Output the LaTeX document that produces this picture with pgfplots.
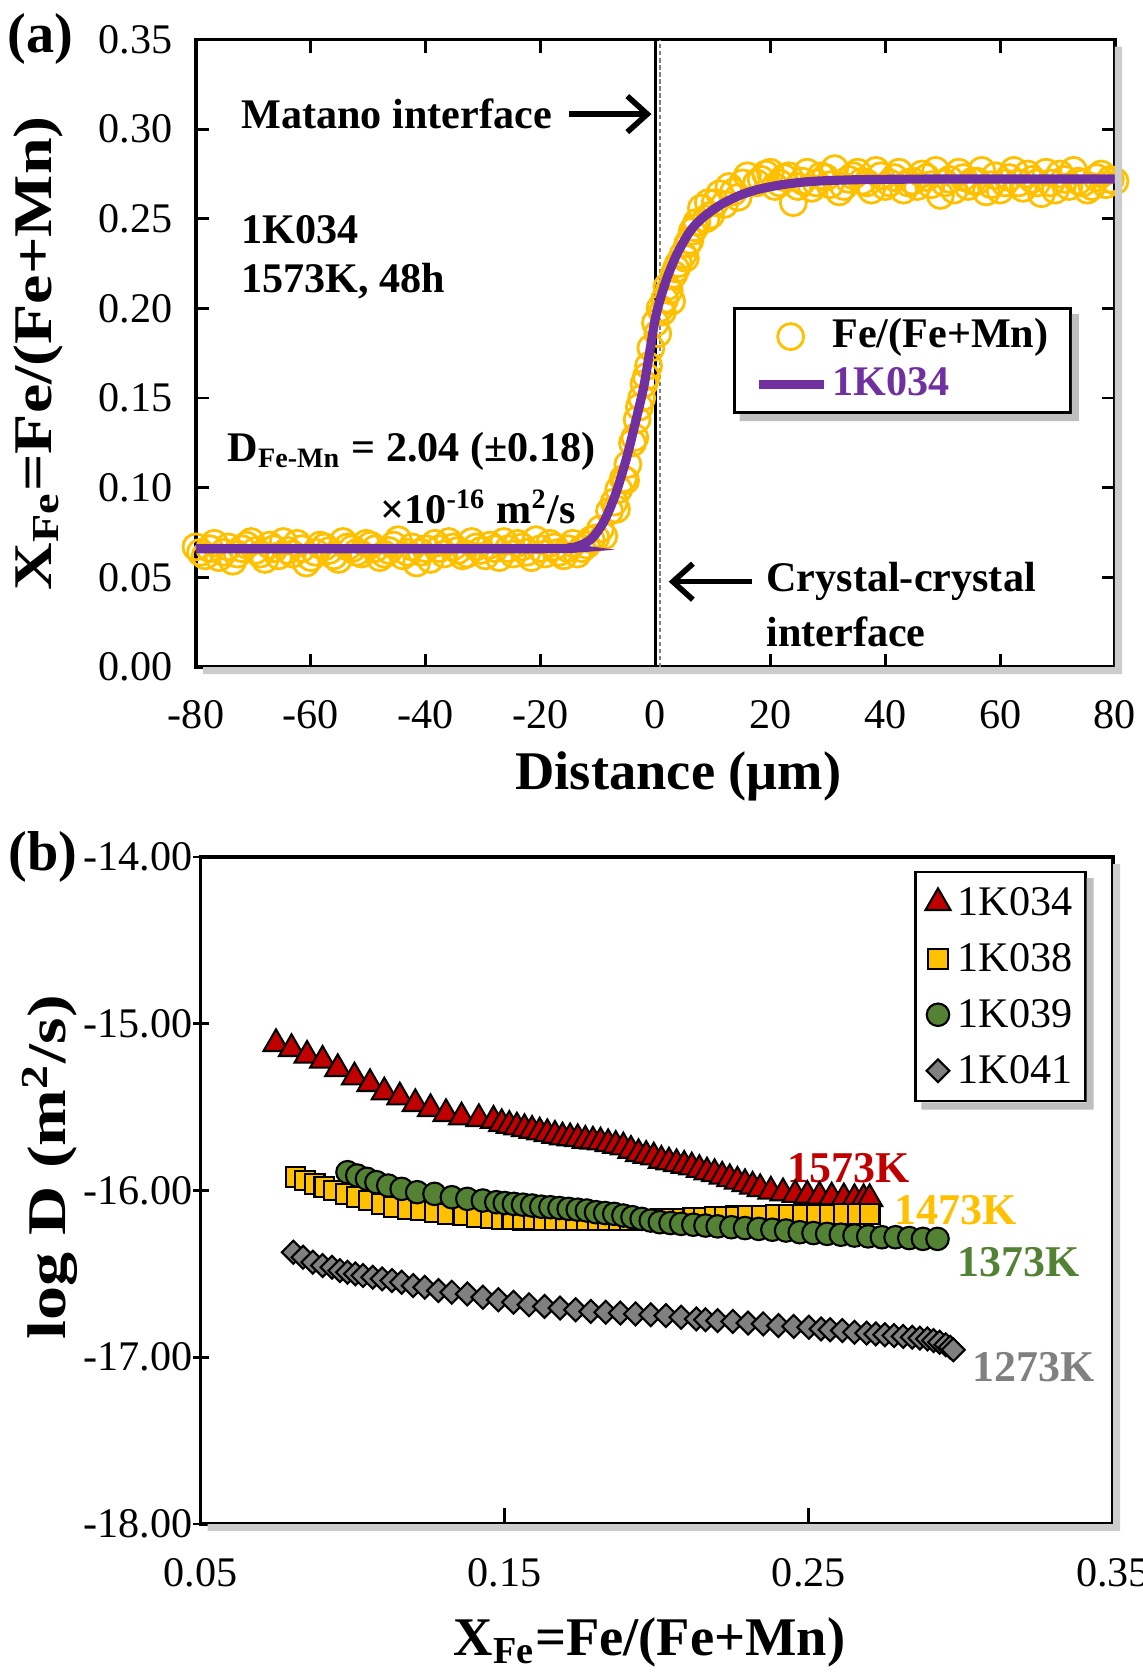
\documentclass[border=0pt]{standalone}
\usepackage{pgfplots}
\pgfplotsset{compat=1.18}
\usepackage{fontspec}
\setmainfont{Liberation Serif}
\usetikzlibrary{arrows.meta}
\definecolor{cOr}{HTML}{FFC000}
\definecolor{cPu}{HTML}{7030A0}
\definecolor{cRe}{HTML}{C00000}
\definecolor{cGr}{HTML}{548235}
\definecolor{cGy}{HTML}{808080}
\newcommand{\tickfont}{\fontsize{12}{14}\selectfont}
\newcommand{\xlabfont}{\fontsize{15.5}{18}\selectfont\bfseries}
\newcommand{\ylabfont}{\fontsize{15.5}{18}\selectfont\bfseries}
\newcommand{\annfont}{\fontsize{12}{14}\selectfont\bfseries}
\pgfplotsset{
  legcirc/.style={legend image code/.code={\coordinate (lA) at (0mm,0mm); \coordinate (lB) at (6.5mm,0mm); \draw[##1] plot coordinates {(3.2mm,0mm)};}},
  legline/.style={legend image code/.code={\draw[##1] plot coordinates {(0mm,0mm) (6.5mm,0mm)};}},
  legmark/.style={legend image code/.code={\draw[##1] plot coordinates {(0mm,0mm)};}},
}
\newcommand{\axisshadow}{%
  \fill[black!20] ([xshift=2pt]rel axis cs:0,0) -- ([xshift=2pt,yshift=-2pt]rel axis cs:0,0)
    -- ([xshift=2pt,yshift=-2pt]rel axis cs:1,0) -- ([xshift=2pt,yshift=-2pt]rel axis cs:1,1)
    -- ([yshift=-2pt]rel axis cs:1,1) -- (rel axis cs:1,0) -- cycle;}
\newcommand{\legshadow}[1]{%
  \fill[black!25] ([xshift=2pt]#1.south west) -- ([xshift=2pt,yshift=-2pt]#1.south west)
    -- ([xshift=2pt,yshift=-2pt]#1.south east) -- ([xshift=2pt,yshift=-2pt]#1.north east)
    -- ([yshift=-2pt]#1.north east) -- (#1.south east) -- cycle;}
\begin{document}
\begin{tikzpicture}
\useasboundingbox (0,0) rectangle (114.3mm,-167.3mm);
\node[font=\fontsize{16}{18}\selectfont\bfseries] at (4.05mm,-3.9mm) {(a)};
\node[font=\fontsize{16}{18}\selectfont\bfseries] at (4.3mm,-85.7mm) {(b)};
% ---------------- panel (a)
\begin{axis}[
  at={(19.6mm,-66.7mm)}, anchor=south west,
  scale only axis, width=91.9mm, height=62.75mm,
  xmin=-80, xmax=80, ymin=0, ymax=0.35,
  xtick={-80,-60,-40,-20,0,20,40,60,80},
  ytick={0,0.05,0.10,0.15,0.20,0.25,0.30,0.35},
  axis line style={line width=0.9pt},
  every tick/.style={black, line width=0.8pt},
  major tick length=1.3mm,
  tick align=inside,
  tick label style={font=\tickfont},
  /pgf/number format/assume math mode=true,
  yticklabel style={/pgf/number format/fixed, /pgf/number format/fixed zerofill, /pgf/number format/precision=2, xshift=-1.1mm},
  xticklabel style={yshift=-2.1mm},
  every axis x label/.style={at={(axis description cs:0.525,-0.174)}, anchor=center},
  every axis y label/.style={at={(axis description cs:-0.172,0.50)}, anchor=center, rotate=90},
  xlabel={\xlabfont Distance (μm)},
  ylabel={\scalebox{1.21}[1]{\ylabfont X\textsubscript{Fe}=Fe/(Fe+Mn)}},
  clip=false,
  clip marker paths=true,
  legend style={name=lega, at={(axis cs:72.5,0.2008)}, anchor=north east, draw=black, line width=0.9pt, fill=white,
    font=\annfont, inner xsep=2mm, inner ysep=0.6mm, row sep=0.4mm, column sep=0.2mm,
    nodes={text height=3.1mm, text depth=0.9mm, inner sep=0.2mm}},
  legend cell align=left,
]
\addplot[draw=black, line width=0.8pt, forget plot] coordinates {(0,0) (0,0.35)};
\addplot[draw=gray, line width=0.6pt, dash pattern=on 1.2pt off 0.8pt, forget plot] coordinates {(0.8,0) (0.8,0.35)};
\addplot[only marks, mark=o, mark size=3.7pt, mark options={draw=cOr, line width=0.8pt}, legcirc]
coordinates {
(-80.0,0.067)(-78.4,0.062)(-76.8,0.069)(-75.2,0.064)(-73.6,0.059)(-72.0,0.066)(-70.4,0.070)(-68.8,0.063)
(-67.2,0.068)(-65.6,0.062)(-64.0,0.065)(-62.4,0.069)(-60.8,0.058)(-59.2,0.064)(-57.6,0.067)(-56.0,0.062)
(-54.4,0.070)(-52.8,0.066)(-51.2,0.063)(-49.6,0.068)(-48.0,0.061)(-46.4,0.065)(-44.8,0.071)(-43.2,0.064)
(-41.6,0.058)(-40.0,0.066)(-38.4,0.069)(-36.8,0.063)(-35.2,0.067)(-33.6,0.062)(-32.0,0.070)(-30.4,0.065)
(-28.8,0.068)(-27.2,0.061)(-25.6,0.066)(-24.0,0.069)(-22.4,0.064)(-20.8,0.071)(-19.2,0.063)(-17.6,0.067)
(-16.0,0.062)(-14.4,0.069)(-12.8,0.066)(-11.2,0.071)(-10.4,0.072)(-9.6,0.077)(-8.0,0.087)(-7.2,0.092)
(-79.2,0.064)(-77.6,0.066)(-76.0,0.061)(-74.4,0.067)(-72.8,0.063)(-71.2,0.068)(-69.6,0.065)(-68.0,0.060)
(-66.4,0.066)(-64.8,0.070)(-63.2,0.063)(-61.6,0.066)(-60.0,0.061)(-58.4,0.068)(-56.8,0.065)(-55.2,0.060)
(-53.6,0.067)(-52.0,0.064)(-50.4,0.069)(-48.8,0.066)(-47.2,0.063)(-45.6,0.068)(-44.0,0.062)(-42.4,0.067)
(-40.8,0.064)(-39.2,0.060)(-37.6,0.066)(-36.0,0.070)(-34.4,0.065)(-32.8,0.063)(-31.2,0.067)(-29.6,0.062)
(-28.0,0.066)(-26.4,0.070)(-24.8,0.063)(-23.2,0.067)(-21.6,0.061)(-20.0,0.066)(-18.4,0.069)(-16.8,0.064)
(-15.2,0.066)(-13.6,0.063)(-12.0,0.068)
(-9.0,0.073)(-6.8,0.088)(-5.2,0.104)(-3.6,0.128)(-2.8,0.145)(-2.0,0.158)
(-6.4,0.099)(-5.6,0.105)(-4.8,0.113)(-4.0,0.125)(-3.2,0.138)(-2.4,0.150)(-1.6,0.162)(-0.8,0.178)
(-1.2,0.168)(0.4,0.186)(1.2,0.198)(2.0,0.212)(2.8,0.204)(3.6,0.222)(5.2,0.228)(6.0,0.238)(6.8,0.245)
(8.8,0.250)(9.2,0.259)(12.0,0.258)
(0.0,0.192)(0.8,0.200)(1.6,0.205)(2.4,0.210)(3.2,0.219)(4.0,0.225)(4.8,0.230)(5.6,0.236)(6.4,0.243)
(7.2,0.248)(8.0,0.256)(9.6,0.252)(10.4,0.259)(11.2,0.264)(12.8,0.268)(14.4,0.262)(16.0,0.274)(17.6,0.270)
(19.2,0.275)(20.8,0.268)(22.4,0.273)(24.0,0.259)(25.6,0.271)(27.2,0.267)(28.8,0.274)(30.4,0.269)
(32.0,0.265)(33.6,0.272)(35.2,0.276)(36.8,0.270)(38.4,0.277)(40.0,0.268)(41.6,0.273)(43.2,0.266)
(44.8,0.271)(46.4,0.275)(48.0,0.269)(49.6,0.263)(51.2,0.272)(52.8,0.276)(54.4,0.268)(56.0,0.271)
(57.6,0.265)(59.2,0.274)(60.8,0.270)(62.4,0.277)(64.0,0.267)(65.6,0.272)(67.2,0.264)(68.8,0.270)
(70.4,0.275)(72.0,0.268)(73.6,0.271)(75.2,0.266)(76.8,0.273)(78.4,0.269)(80.0,0.271)
(13.6,0.265)(15.2,0.270)(18.4,0.272)(20.0,0.276)(21.6,0.270)(23.2,0.274)(24.8,0.268)(26.4,0.276)
(28.0,0.270)(29.6,0.273)(31.2,0.278)(32.8,0.268)(34.4,0.274)(36.0,0.271)(37.6,0.266)(39.2,0.274)
(40.8,0.270)(42.4,0.276)(44.0,0.270)(45.6,0.268)(47.2,0.273)(48.8,0.277)(50.4,0.270)(52.0,0.266)
(53.6,0.273)(55.2,0.271)(56.8,0.277)(58.4,0.269)(60.0,0.266)(61.6,0.273)(63.2,0.270)(64.8,0.275)
(66.4,0.270)(68.0,0.276)(69.6,0.266)(71.2,0.272)(72.8,0.277)(74.4,0.270)(76.0,0.268)(77.6,0.275)(79.2,0.272)
};
\addlegendentry{Fe/(Fe+Mn)}
\addplot[cPu, line width=2.6pt, smooth, no marks, legline]
coordinates {
(-80,0.0660)(-20,0.0660)(-15,0.0665)(-13,0.0680)(-11,0.0720)(-9,0.0810)(-7,0.0960)(-5,0.1170)
(-3,0.1430)(-2,0.1570)(-1,0.1760)(0,0.1950)(1,0.2070)(2,0.2170)(3,0.2250)(4,0.2320)(6,0.2430)
(8,0.2500)(10,0.2550)(12,0.2590)(15,0.2635)(18,0.2665)(22,0.2690)(27,0.2708)(35,0.2718)(50,0.2722)(80,0.2722)
};
\addlegendentry{\textcolor{cPu}{1K034}}
\axisshadow
\node[anchor=west, inner sep=0pt, font=\annfont] at (axis cs:-72.2,0.3084) {Matano interface};
\draw[line width=1.6pt, -{Straight Barb[length=2mm,width=3.6mm]}] (axis cs:-15.1,0.3084) -- (axis cs:-0.7,0.3084);
\node[anchor=west, inner sep=0pt, font=\annfont] at (axis cs:-72.2,0.244) {1K034};
\node[anchor=west, inner sep=0pt, font=\annfont] at (axis cs:-72.2,0.2155) {1573K, 48h};
\node[anchor=west, inner sep=0pt, font=\annfont] at (axis cs:-74.6,0.1203) {D\textsubscript{Fe-Mn} = 2.04 (±0.18)};
\node[anchor=west, inner sep=0pt, font=\annfont] at (axis cs:-48,0.0892) {×10\textsuperscript{-16} m\textsuperscript{2}/s};
\node[anchor=west, inner sep=0pt, font=\annfont] at (axis cs:19.2,0.0476) {Crystal-crystal};
\node[anchor=west, inner sep=0pt, font=\annfont] at (axis cs:19.2,0.0196) {interface};
\draw[line width=1.6pt, -{Straight Barb[length=2mm,width=3.6mm]}] (axis cs:16.8,0.0476) -- (axis cs:2.3,0.0476);
\end{axis}
\legshadow{lega}
% ---------------- panel (b)
\begin{axis}[
  at={(20.06mm,-152.4mm)}, anchor=south west,
  scale only axis, width=91.24mm, height=66.7mm,
  xmin=0.05, xmax=0.35, ymin=-18, ymax=-14,
  xtick={0.05,0.15,0.25,0.35}, ytick={-18,-17,-16,-15,-14},
  xtick pos=bottom, ytick pos=left,
  xtick align=inside, ytick align=center,
  axis line style={line width=0.9pt},
  every tick/.style={black, line width=0.8pt},
  major tick length=1.6mm,
  tick label style={font=\tickfont},
  /pgf/number format/assume math mode=true,
  xticklabel style={/pgf/number format/fixed, /pgf/number format/fixed zerofill, /pgf/number format/precision=2, yshift=-2.2mm},
  yticklabel style={/pgf/number format/fixed, /pgf/number format/fixed zerofill, /pgf/number format/precision=2, xshift=1.2mm},
  every axis x label/.style={at={(axis description cs:0.492,-0.178)}, anchor=center},
  every axis y label/.style={at={(axis description cs:-0.165,0.535)}, anchor=center, rotate=90},
  xlabel={\xlabfont X\textsubscript{Fe}=Fe/(Fe+Mn)},
  ylabel={\scalebox{1.25}[1]{\ylabfont log D (m\textsuperscript{2}/s)}},
  clip=false,
  legend style={name=legb, at={(axis description cs:0.971,0.979)}, anchor=north east, draw=black, line width=0.7pt, fill=white,
    font=\tickfont, inner sep=1mm, row sep=1.5mm, column sep=0.4mm,
    nodes={text height=3mm, text depth=0.5mm, inner sep=0.3mm}},
  legend cell align=left,
  legmark,
]
\addplot[only marks, mark=triangle*, mark size=4.1pt, mark options={fill=cRe, draw=black, line width=0.6pt}]
coordinates {
(0.0748,-15.12)(0.0799,-15.15)(0.0850,-15.19)(0.0901,-15.22)(0.0951,-15.27)(0.1006,-15.32)(0.1057,-15.36)
(0.1104,-15.41)(0.1155,-15.44)(0.1206,-15.48)(0.1256,-15.51)(0.1307,-15.54)(0.1358,-15.56)(0.1415,-15.57)
(0.1463,-15.58)(0.1490,-15.60)(0.1515,-15.61)(0.1540,-15.62)(0.1565,-15.63)(0.1590,-15.64)(0.1615,-15.65)
(0.1640,-15.66)(0.1665,-15.67)(0.1690,-15.68)(0.1715,-15.685)(0.1740,-15.69)(0.1765,-15.70)(0.1790,-15.705)
(0.1815,-15.71)(0.1840,-15.72)(0.1865,-15.73)(0.1890,-15.74)(0.1915,-15.76)(0.1940,-15.78)(0.1965,-15.79)
(0.1990,-15.80)(0.2015,-15.82)(0.2040,-15.83)(0.2065,-15.84)(0.2090,-15.85)(0.2115,-15.86)(0.2140,-15.875)
(0.2165,-15.89)(0.2190,-15.90)(0.2215,-15.915)(0.2240,-15.93)(0.2265,-15.945)(0.2290,-15.96)(0.2315,-15.975)
(0.2340,-15.99)(0.2375,-16.005)(0.2415,-16.015)(0.2455,-16.025)(0.2495,-16.03)(0.2535,-16.035)(0.2575,-16.04)
(0.2615,-16.045)(0.2650,-16.05)(0.2680,-16.05)(0.2700,-16.05)
};
\addlegendentry{1K034}
\addplot[only marks, mark=square*, mark size=2.8pt, mark options={fill=cOr, draw=black, line width=0.6pt}]
coordinates {
(0.0812,-15.92)(0.0843,-15.94)(0.0875,-15.96)(0.0907,-15.98)(0.0939,-16.00)(0.0977,-16.02)(0.1015,-16.04)
(0.1053,-16.06)(0.1097,-16.08)(0.1136,-16.10)(0.1180,-16.11)(0.1224,-16.12)(0.1269,-16.13)(0.1313,-16.14)
(0.1364,-16.15)(0.1409,-16.16)(0.1453,-16.165)(0.1490,-16.17)(0.1525,-16.17)(0.1560,-16.175)(0.1595,-16.175)
(0.1630,-16.18)(0.1665,-16.18)(0.1700,-16.18)(0.1735,-16.18)(0.1770,-16.18)(0.1805,-16.18)(0.1840,-16.18)
(0.1875,-16.18)(0.1910,-16.178)(0.1945,-16.176)(0.1980,-16.174)(0.2015,-16.172)(0.2050,-16.17)(0.2085,-16.168)
(0.2120,-16.165)(0.2155,-16.162)(0.2190,-16.16)(0.2225,-16.157)(0.2260,-16.155)(0.2300,-16.152)(0.2345,-16.15)
(0.2390,-16.148)(0.2435,-16.146)(0.2480,-16.145)(0.2525,-16.144)(0.2570,-16.143)(0.2615,-16.142)(0.2660,-16.141)
(0.2700,-16.14)
};
\addlegendentry{1K038}
\addplot[only marks, mark=*, mark size=3.2pt, mark options={fill=cGr, draw=black, line width=0.6pt}]
coordinates {
(0.0983,-15.89)(0.1015,-15.91)(0.1047,-15.93)(0.1078,-15.95)(0.1117,-15.97)(0.1161,-15.99)(0.1212,-16.01)
(0.1269,-16.02)(0.1326,-16.04)(0.1377,-16.05)(0.1428,-16.06)(0.1472,-16.07)(0.1500,-16.075)(0.1530,-16.08)
(0.1560,-16.085)(0.1590,-16.09)(0.1620,-16.097)(0.1650,-16.10)(0.1680,-16.105)(0.1710,-16.11)(0.1740,-16.115)
(0.1770,-16.12)(0.1800,-16.13)(0.1830,-16.135)(0.1860,-16.14)(0.1890,-16.15)(0.1920,-16.16)(0.1950,-16.17)
(0.1980,-16.18)(0.2010,-16.19)(0.2045,-16.195)(0.2080,-16.20)(0.2120,-16.205)(0.2160,-16.21)(0.2200,-16.215)
(0.2245,-16.22)(0.2290,-16.225)(0.2335,-16.23)(0.2380,-16.235)(0.2425,-16.24)(0.2470,-16.25)(0.2515,-16.255)
(0.2560,-16.26)(0.2605,-16.265)(0.2650,-16.27)(0.2695,-16.275)(0.2740,-16.28)(0.2785,-16.28)(0.2830,-16.285)
(0.2875,-16.29)(0.2923,-16.29)
};
\addlegendentry{1K039}
\addplot[only marks, mark=square*, mark size=2.3pt, mark options={fill=cGy, draw=black, line width=0.6pt, rotate=45}]
coordinates {
(0.0805,-16.37)(0.0837,-16.40)(0.0869,-16.43)(0.0901,-16.45)(0.0932,-16.46)(0.0958,-16.48)(0.0983,-16.49)
(0.1009,-16.50)(0.1034,-16.51)(0.1066,-16.52)(0.1097,-16.53)(0.1129,-16.54)(0.1161,-16.55)(0.1199,-16.57)
(0.1237,-16.58)(0.1282,-16.60)(0.1326,-16.61)(0.1377,-16.62)(0.1428,-16.64)(0.1479,-16.655)(0.1529,-16.67)
(0.1580,-16.685)(0.1631,-16.695)(0.1682,-16.705)(0.1733,-16.715)(0.1783,-16.725)(0.1832,-16.73)(0.1880,-16.735)
(0.1930,-16.74)(0.1980,-16.745)(0.2030,-16.75)(0.2080,-16.76)(0.2130,-16.77)(0.2160,-16.775)(0.2200,-16.78)
(0.2250,-16.785)(0.2300,-16.795)(0.2350,-16.80)(0.2400,-16.81)(0.2450,-16.815)(0.2500,-16.82)(0.2540,-16.83)
(0.2570,-16.835)(0.2610,-16.84)(0.2650,-16.85)(0.2690,-16.855)(0.2720,-16.86)(0.2750,-16.865)(0.2780,-16.87)
(0.2810,-16.875)(0.2840,-16.88)(0.2865,-16.885)(0.2890,-16.89)(0.2910,-16.90)(0.2930,-16.91)(0.2950,-16.925)
(0.2965,-16.94)(0.2975,-16.955)
};
\addlegendentry{1K041}
\axisshadow
\node[font=\fontsize{12.5}{14}\selectfont\bfseries, text=cRe] at (axis cs:0.263,-15.868) {1573K};
\node[font=\fontsize{12.5}{14}\selectfont\bfseries, text=cOr] at (axis cs:0.2981,-16.117) {1473K};
\node[font=\fontsize{12.5}{14}\selectfont\bfseries, text=cGr] at (axis cs:0.319,-16.432) {1373K};
\node[font=\fontsize{12.5}{14}\selectfont\bfseries, text=gray] at (axis cs:0.3238,-17.06) {1273K};
\end{axis}
\legshadow{legb}
\end{tikzpicture}
\end{document}
